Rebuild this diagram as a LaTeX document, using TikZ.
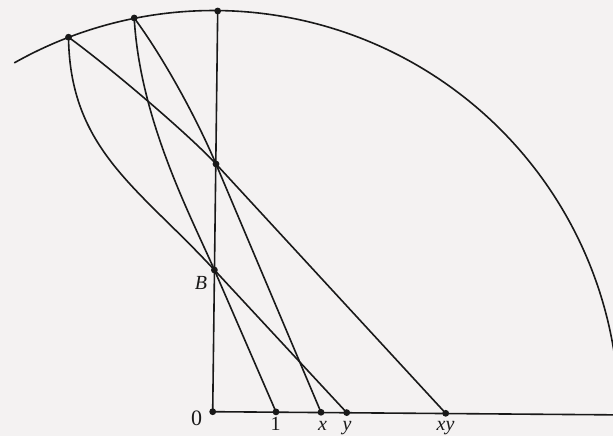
\documentclass[tikz,border=0pt]{standalone}
\usepackage{fontspec}
\setmainfont{Liberation Serif}
\definecolor{paper}{RGB}{244,242,242}
\definecolor{ink}{RGB}{25,25,25}
\begin{document}
\begin{tikzpicture}[x=1pt,y=-1pt,line width=1.6pt,line join=round,line cap=round,
  ink/.style={draw=ink},
  dotpt/.style={fill=ink},
  lbl/.style={inner sep=0pt,anchor=base,text=ink,font=\fontsize{20}{20}\selectfont}]
\useasboundingbox (0,0) rectangle (613,436);
\fill[paper] (0,0) rectangle (613,436);
\clip (0,0) rectangle (613,436);
% points
\coordinate (Cc) at (213.6,416);
\coordinate (O) at (212.7,411.7);
\coordinate (T) at (217.7,11);
\coordinate (C) at (216,164);
\coordinate (B) at (214.4,270);
\coordinate (P1) at (68.5,37.2);
\coordinate (P2) at (134.2,18);
\coordinate (U) at (276,411.9);
\coordinate (X) at (321,412.3);
\coordinate (Y) at (346.7,412.6);
\coordinate (XY) at (445.7,413.3);
\coordinate (E) at (620,414.9);
% circle arc
\draw[ink] ([shift={(119.4:405.5pt)}]Cc) arc[start angle=119.4,end angle=8,radius=405.5pt];
% axes
\draw[ink] (O) -- (T);
\draw[ink] (O) -- (E);
% lines
\draw[ink] (P1) .. controls (70,150) and (139,188) .. (B) -- (Y);
\draw[ink] (P2) .. controls (140,120) and (190.3,215) .. (B) -- (U);
\draw[ink] (P1) .. controls (108.6,66.3) and (188.9,134.6) .. (C) -- (XY);
\draw[ink] (P2) .. controls (163.5,57.6) and (196.5,118) .. (C) -- (X);
% dots
\foreach \p in {O,T,C,B,P1,P2,U,X,Y,XY} \fill[dotpt] (\p) circle[radius=3.4pt];
% labels
\node[lbl,font=\fontsize{22}{22}\selectfont] (l0) at (196.5,425.5) {0};
\node[lbl] (lB) at (201,289) {\textit{B}};
\node[lbl] (l1) at (275.5,430) {1};
\node[lbl] (lx) at (322.5,430) {\textit{x}};
\node[lbl] (ly) at (347,430) {\textit{y}};
\node[lbl] (lxy) at (445.5,430) {\textit{xy}};
\end{tikzpicture}
\end{document}
